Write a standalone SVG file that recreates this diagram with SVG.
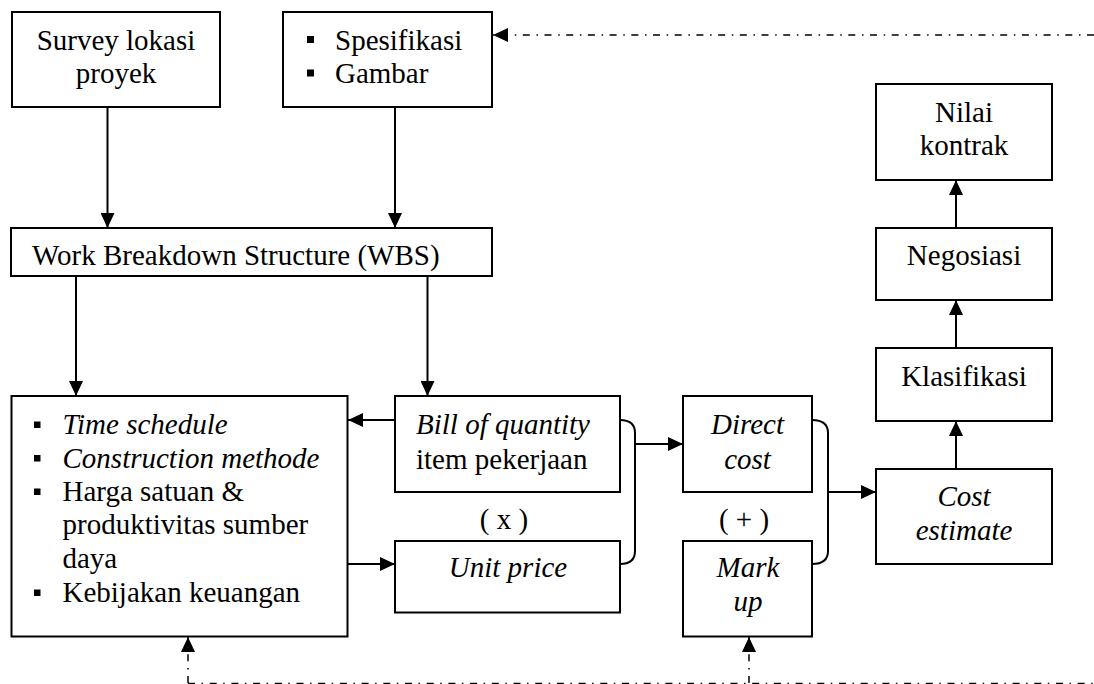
<svg xmlns="http://www.w3.org/2000/svg" width="1094" height="684" viewBox="0 0 1094 684">
  <defs>
    <marker id="arrow" markerUnits="userSpaceOnUse" markerWidth="15" markerHeight="14" refX="15" refY="7" orient="auto">
      <path d="M0,0 L15,7 L0,14 Z" fill="#000000"/>
    </marker>
  </defs>

  <rect width="1094" height="684" fill="#ffffff"/>

  <g id="connectors" fill="none" stroke="#000000" stroke-width="2">
    <line x1="107.5" y1="107" x2="107.5" y2="228" marker-end="url(#arrow)"/>
    <line x1="395" y1="107" x2="395" y2="228" marker-end="url(#arrow)"/>
    <line x1="76" y1="276" x2="76" y2="396" marker-end="url(#arrow)"/>
    <line x1="427.5" y1="276" x2="427.5" y2="396" marker-end="url(#arrow)"/>
    <line x1="395" y1="420" x2="348" y2="420" marker-end="url(#arrow)"/>
    <line x1="348" y1="564" x2="395" y2="564" marker-end="url(#arrow)"/>
    <!-- bracket joining Bill of quantity and Unit price -->
    <path d="M620,420 Q635,420 635,433 V551 Q635,564 620,564"/>
    <line x1="635" y1="444" x2="683" y2="444" marker-end="url(#arrow)"/>
    <!-- bracket joining Direct cost and Mark up -->
    <path d="M812,420 Q828,420 828,433 V551 Q828,564 812,564"/>
    <line x1="828" y1="492" x2="876" y2="492" marker-end="url(#arrow)"/>
    <line x1="956" y1="469" x2="956" y2="421" marker-end="url(#arrow)"/>
    <line x1="956" y1="348" x2="956" y2="300" marker-end="url(#arrow)"/>
    <line x1="956" y1="228" x2="956" y2="180" marker-end="url(#arrow)"/>
    <!-- feedback lines, dash-dot -->
    <g stroke-width="1.5" stroke-dasharray="7 6.5 1.5 6.7">
      <line x1="1094" y1="35" x2="493" y2="35" marker-end="url(#arrow)"/>
      <line x1="188" y1="683.5" x2="1094" y2="683.5"/>
      <line x1="188" y1="683" x2="188" y2="637" marker-end="url(#arrow)"/>
      <line x1="749" y1="683" x2="749" y2="637" marker-end="url(#arrow)"/>
    </g>
  </g>

  <g font-family="Liberation Serif" font-size="29" fill="#000000">

  <g id="survey">
    <rect x="12" y="12" width="208" height="95" fill="#ffffff" stroke="#000000" stroke-width="2"/>
    <text x="116" y="50" text-anchor="middle">Survey lokasi</text>
    <text x="116" y="83" text-anchor="middle">proyek</text>
  </g>

  <g id="spesifikasi">
    <rect x="283" y="12" width="209" height="95" fill="#ffffff" stroke="#000000" stroke-width="2"/>
    <rect x="307" y="36" width="7" height="7"/>
    <text x="335" y="50">Spesifikasi</text>
    <rect x="307" y="69.5" width="7" height="7"/>
    <text x="335" y="83">Gambar</text>
  </g>

  <g id="wbs">
    <rect x="11" y="228" width="481" height="48" fill="#ffffff" stroke="#000000" stroke-width="2"/>
    <text x="32" y="265">Work Breakdown Structure (WBS)</text>
  </g>

  <g id="input-data">
    <rect x="11.5" y="396" width="336" height="240.5" fill="#ffffff" stroke="#000000" stroke-width="2"/>
    <rect x="34" y="421.5" width="6.5" height="6.5"/>
    <text x="62.5" y="434" font-style="italic">Time schedule</text>
    <rect x="34" y="455" width="6.5" height="6.5"/>
    <text x="62.5" y="467.5" font-style="italic">Construction methode</text>
    <rect x="34" y="488.5" width="6.5" height="6.5"/>
    <text x="62.5" y="501">Harga satuan &amp;</text>
    <text x="62.5" y="534">produktivitas sumber</text>
    <text x="62.5" y="567.5">daya</text>
    <rect x="34" y="589.5" width="6.5" height="6.5"/>
    <text x="62.5" y="602">Kebijakan keuangan</text>
  </g>

  <g id="bill-of-quantity">
    <rect x="395" y="396" width="225" height="96" fill="#ffffff" stroke="#000000" stroke-width="2"/>
    <text x="416" y="434" font-style="italic">Bill of quantity</text>
    <text x="416" y="468.5">item pekerjaan</text>
  </g>

  <g id="times-sign">
    <text x="504" y="528.5" text-anchor="middle">( x )</text>
  </g>

  <g id="unit-price">
    <rect x="395" y="541" width="225" height="71.5" fill="#ffffff" stroke="#000000" stroke-width="2"/>
    <text x="508" y="577" font-style="italic" text-anchor="middle">Unit price</text>
  </g>

  <g id="direct-cost">
    <rect x="683" y="396" width="129" height="96" fill="#ffffff" stroke="#000000" stroke-width="2"/>
    <text x="747.5" y="434" font-style="italic" text-anchor="middle">Direct</text>
    <text x="747.5" y="468.5" font-style="italic" text-anchor="middle">cost</text>
  </g>

  <g id="plus-sign">
    <text x="744" y="528.5" text-anchor="middle">( + )</text>
  </g>

  <g id="mark-up">
    <rect x="683" y="541" width="129" height="95.5" fill="#ffffff" stroke="#000000" stroke-width="2"/>
    <text x="748" y="577" font-style="italic" text-anchor="middle">Mark</text>
    <text x="748" y="611" font-style="italic" text-anchor="middle">up</text>
  </g>

  <g id="cost-estimate">
    <rect x="876" y="469" width="176" height="95" fill="#ffffff" stroke="#000000" stroke-width="2"/>
    <text x="964" y="506" font-style="italic" text-anchor="middle">Cost</text>
    <text x="964" y="539.5" font-style="italic" text-anchor="middle">estimate</text>
  </g>

  <g id="klasifikasi">
    <rect x="876" y="348" width="176" height="73" fill="#ffffff" stroke="#000000" stroke-width="2"/>
    <text x="964" y="386" text-anchor="middle">Klasifikasi</text>
  </g>

  <g id="negosiasi">
    <rect x="876" y="228" width="176" height="72" fill="#ffffff" stroke="#000000" stroke-width="2"/>
    <text x="964" y="265" text-anchor="middle">Negosiasi</text>
  </g>

  <g id="nilai-kontrak">
    <rect x="876" y="84" width="176" height="96" fill="#ffffff" stroke="#000000" stroke-width="2"/>
    <text x="964" y="122" text-anchor="middle">Nilai</text>
    <text x="964" y="155" text-anchor="middle">kontrak</text>
  </g>

  </g>
</svg>
